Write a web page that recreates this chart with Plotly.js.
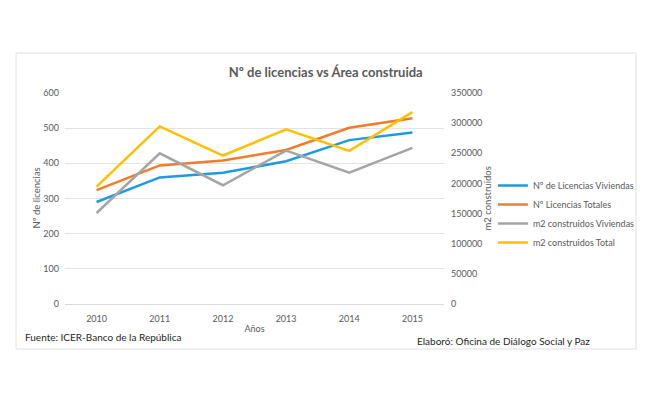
<!DOCTYPE html>
<html>
<head>
<meta charset="utf-8">
<script src="https://cdn.plot.ly/plotly-3.0.1.min.js"></script>
<style>html,body{margin:0;padding:0;background:#fff;}#chart{width:645px;height:404px;}</style>
</head>
<body>
<div id="chart"></div>
<script>
const years = ['2010','2011','2012','2013','2014','2015'];
const licViviendas = [290, 360, 373, 406, 466, 488];
const licTotales = [324, 394, 408, 438, 501, 528];
const m2Viviendas = [151000, 250000, 197000, 254500, 217800, 259000];
const m2Total = [194800, 294600, 246300, 289700, 254000, 318200];
const seriesNames = ['Nº de Licencias Viviendas','Nº Licencias Totales','m2 construidos Viviendas','m2 construidos Total'];
const leftTicks = [0,100,200,300,400,500,600];
const rightTicks = [0,50000,100000,150000,200000,250000,300000,350000];
const rightTickText = ['0','50000','100000','150000','200000','250000','300000','350000'];

const FONT = 'Lato, "Open Sans", sans-serif';
const GREY = '#595959';
const traces = [
  {x: years, y: licViviendas, name: seriesNames[0], type:'scatter', mode:'lines', line:{color:'#1f9ae0', width:2.5}, yaxis:'y'},
  {x: years, y: licTotales, name: seriesNames[1], type:'scatter', mode:'lines', line:{color:'#f47a2c', width:2.5}, yaxis:'y'},
  {x: years, y: m2Viviendas, name: seriesNames[2], type:'scatter', mode:'lines', line:{color:'#a5a5a5', width:2.5}, yaxis:'y2'},
  {x: years, y: m2Total, name: seriesNames[3], type:'scatter', mode:'lines', line:{color:'#ffc000', width:2.5}, yaxis:'y2'}
];
const layout = {
  width: 645, height: 404,
  margin: {l:65, r:201, t:93, b:100, autoexpand:false},
  paper_bgcolor:'#fff', plot_bgcolor:'#fff',
  font: {family: FONT, size: 9, color: GREY},
  showlegend: true,
  title: {text:'Nº de licencias vs Área construida', x:0.505, xanchor:'center', y:1-72/404, yanchor:'middle', font:{family:FONT, size:13, color:GREY, weight:'bold'}},
  xaxis: {type:'category', range:[-0.5,5.5], showgrid:false, zeroline:false, showline:false, ticks:'', ticklabelstandoff:8, tickfont:{size:9,color:GREY},
          title:{text:'Años', font:{size:9,color:GREY}, standoff:2}},
  yaxis: {range:[0,600], tickvals:leftTicks, showgrid:true, gridcolor:'#e3e3e3', gridwidth:1, zeroline:true, zerolinecolor:'#d9d9d9', zerolinewidth:1,
          showline:false, ticks:'', ticklabelstandoff:5, tickfont:{size:9,color:GREY}},
  yaxis2: {range:[0,350000], tickvals:rightTicks, ticktext:rightTickText, overlaying:'y', side:'right', showgrid:false, zeroline:false, showline:false, ticks:'', ticklabelstandoff:6,
          tickfont:{size:9,color:GREY}},
  legend: {x:1.129, xanchor:'left', y:0.4265, yanchor:'middle', font:{size:9,color:GREY}, itemwidth:30, bgcolor:'rgba(0,0,0,0)'},
  shapes: [
    {type:'rect', xref:'paper', yref:'paper', x0:(16-65)/379, x1:(636-65)/379, y0:(304-349)/211, y1:(304-53)/211, line:{color:'#e0e0e0', width:1}, fillcolor:'rgba(0,0,0,0)', layer:'below'}
  ],
  annotations: [
    {text:'Nº de licencias', xref:'paper', yref:'paper', x:(36-65)/379, y:0.5, xanchor:'center', yanchor:'middle', textangle:-90, showarrow:false, font:{size:9.5,color:GREY}},
    {text:'m2 construidos', xref:'paper', yref:'paper', x:(487-65)/379, y:0.5, xanchor:'center', yanchor:'middle', textangle:-90, showarrow:false, font:{size:9.5,color:GREY}},
    {text:'Fuente: ICER-Banco de la República', xref:'paper', yref:'paper', x:(23-65)/379, y:(304-337)/211, xanchor:'left', yanchor:'middle', showarrow:false, font:{size:10,color:'#262626'}},
    {text:'Elaboró: Oficina de Diálogo Social y Paz', xref:'paper', yref:'paper', x:(415-65)/379, y:(304-341)/211, xanchor:'left', yanchor:'middle', showarrow:false, font:{size:10,color:'#262626'}}
  ]
};
Plotly.newPlot('chart', traces, layout, {displayModeBar:false, staticPlot:true});
</script>
</body>
</html>
